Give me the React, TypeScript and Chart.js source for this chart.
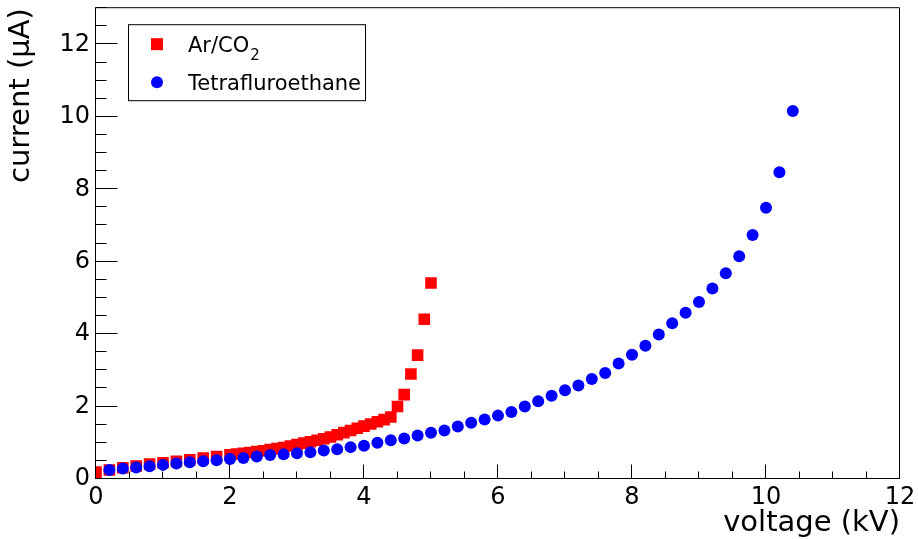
import React, { useEffect, useRef } from 'react';
import { Chart, registerables } from 'chart.js';

Chart.register(...registerables);

// Ar/CO2 data
const arVoltage = [
  0, 0.2, 0.4, 0.6, 0.8, 1.0, 1.2, 1.4, 1.6, 1.8, 2.0,
  2.1, 2.2, 2.3, 2.4, 2.5, 2.6, 2.7, 2.8, 2.9, 3.0,
  3.1, 3.2, 3.3, 3.4, 3.5, 3.6, 3.7, 3.8, 3.9, 4.0,
  4.1, 4.2, 4.3, 4.4, 4.5, 4.6, 4.7, 4.8, 4.9, 5.0,
];
const arCurrent = [
  0.19, 0.25, 0.31, 0.36, 0.41, 0.45, 0.49, 0.53, 0.58, 0.62, 0.67,
  0.69, 0.71, 0.73, 0.76, 0.78, 0.81, 0.84, 0.87, 0.91, 0.95,
  0.99, 1.03, 1.07, 1.11, 1.16, 1.22, 1.28, 1.34, 1.40, 1.46,
  1.52, 1.58, 1.64, 1.71, 2.0, 2.33, 2.9, 3.42, 4.41, 5.41,
];

// Tetrafluroethane data
const tfVoltage = [
  0.2, 0.4, 0.6, 0.8, 1.0, 1.2, 1.4, 1.6, 1.8, 2.0,
  2.2, 2.4, 2.6, 2.8, 3.0, 3.2, 3.4, 3.6, 3.8, 4.0,
  4.2, 4.4, 4.6, 4.8, 5.0, 5.2, 5.4, 5.6, 5.8, 6.0,
  6.2, 6.4, 6.6, 6.8, 7.0, 7.2, 7.4, 7.6, 7.8, 8.0,
  8.2, 8.4, 8.6, 8.8, 9.0, 9.2, 9.4, 9.6, 9.8, 10.0,
  10.2, 10.4,
];
const tfCurrent = [
  0.25, 0.29, 0.32, 0.35, 0.39, 0.43, 0.46, 0.49, 0.52, 0.55,
  0.58, 0.62, 0.66, 0.68, 0.71, 0.74, 0.79, 0.82, 0.88, 0.92,
  1.0, 1.07, 1.12, 1.2, 1.28, 1.34, 1.45, 1.55, 1.64, 1.75,
  1.85, 2.0, 2.15, 2.3, 2.45, 2.58, 2.76, 2.93, 3.19, 3.43,
  3.68, 3.99, 4.3, 4.59, 4.89, 5.26, 5.68, 6.15, 6.74, 7.49,
  8.47, 10.16,
];

const xTickValues = [0, 2, 4, 6, 8, 10, 12];
const yTickValues = [0, 2, 4, 6, 8, 10, 12];
const seriesNames = ['Ar/CO', 'Tetrafluroethane'];

const FONT = 'DejaVu Sans';

const frameTicksPlugin = {
  id: 'frameTicks',
  afterDatasetsDraw(chart: any) {
    const { ctx, chartArea, scales } = chart;
    const { left, right, top, bottom } = chartArea;
    const x = scales.x;
    const y = scales.y;
    ctx.save();
    ctx.strokeStyle = '#000';
    ctx.lineWidth = 1;
    ctx.beginPath();
    ctx.rect(left - 0.5, top - 0.5, right - left, bottom - top);
    ctx.stroke();
    ctx.beginPath();
    for (let v = x.min; v <= x.max + 1e-9; v += 0.5) {
      const px = Math.round(x.getPixelForValue(v)) - 0.5;
      const major = Math.abs(v / 2 - Math.round(v / 2)) < 1e-6;
      const len = major ? 14 : 7;
      ctx.moveTo(px, bottom - 0.5);
      ctx.lineTo(px, bottom - 0.5 - len);
    }
    for (let v = y.min; v <= y.max + 1e-9; v += 0.5) {
      const py = Math.round(y.getPixelForValue(v)) - 0.5;
      const major = Math.abs(v / 2 - Math.round(v / 2)) < 1e-6;
      const len = major ? 22 : 11;
      ctx.moveTo(left - 0.5, py);
      ctx.lineTo(left - 0.5 + len, py);
    }
    ctx.stroke();
    ctx.restore();
  },
  afterDraw(chart: any) {
    const { ctx, chartArea } = chart;
    const bx = chartArea.left + 32;
    const by = chartArea.top + 16;
    const bw = 237;
    const bh = 76;
    ctx.save();
    ctx.fillStyle = '#fff';
    ctx.fillRect(bx, by, bw, bh);
    ctx.strokeStyle = '#000';
    ctx.lineWidth = 1;
    ctx.strokeRect(bx + 0.5, by + 0.5, bw, bh);
    const mx = bx + 29;
    const y1 = by + 20;
    const y2 = by + 58;
    ctx.fillStyle = '#ff0000';
    ctx.fillRect(mx - 6, y1 - 6, 12, 12);
    ctx.fillStyle = '#0000ff';
    ctx.beginPath();
    ctx.arc(mx, y2, 6, 0, Math.PI * 2);
    ctx.fill();
    ctx.fillStyle = '#000';
    ctx.textAlign = 'left';
    ctx.textBaseline = 'alphabetic';
    ctx.font = `21px "${FONT}"`;
    const tx = bx + 60;
    ctx.fillText(seriesNames[0], tx, y1 + 8);
    const w = ctx.measureText(seriesNames[0]).width;
    ctx.font = `15px "${FONT}"`;
    ctx.fillText('2', tx + w + 1, y1 + 16);
    ctx.font = `21px "${FONT}"`;
    ctx.fillText(seriesNames[1], tx, y2 + 8);
    ctx.restore();
  },
};

export default function App() {
  const canvasRef = useRef<HTMLCanvasElement | null>(null);

  useEffect(() => {
    const canvas = canvasRef.current;
    if (!canvas) return;
    const chart = new Chart(canvas, {
      type: 'scatter',
      data: {
        datasets: [
          {
            label: 'Tetrafluroethane',
            data: tfVoltage.map((v, i) => ({ x: v, y: tfCurrent[i] })),
            pointStyle: 'circle',
            pointRadius: 6,
            pointBorderWidth: 0,
            backgroundColor: '#0000ff',
            borderColor: '#0000ff',
            order: 0,
          },
          {
            label: 'Ar/CO2',
            data: arVoltage.map((v, i) => ({ x: v, y: arCurrent[i] })),
            pointStyle: 'rect',
            pointRadius: 8.2,
            pointBorderWidth: 0,
            backgroundColor: '#ff0000',
            borderColor: '#ff0000',
            order: 1,
          },
        ],
      },
      options: {
        responsive: false,
        animation: false,
        events: [],
        devicePixelRatio: 1,
        layout: { padding: { top: 1, right: 18, left: 0, bottom: 0 } },
        plugins: {
          legend: { display: false },
          tooltip: { enabled: false },
        },
        scales: {
          x: {
            type: 'linear',
            min: 0,
            max: 12,
            grid: { display: false, drawTicks: false },
            border: { display: false },
            afterBuildTicks: (scale: any) => {
              scale.ticks = xTickValues.map((v) => ({ value: v }));
            },
            afterFit: (scale: any) => {
              scale.height = 60;
              scale.paddingLeft = 0;
              scale.paddingRight = 0;
            },
            ticks: {
              autoSkip: false,
              maxRotation: 0,
              padding: 4,
              color: '#000',
              font: { family: FONT, size: 24 },
              callback: (v: any) => String(v),
            },
            title: {
              display: true,
              text: 'voltage (kV)',
              align: 'end',
              color: '#000',
              font: { family: FONT, size: 29 },
              padding: { top: 0, bottom: -2 },
            },
          },
          y: {
            type: 'linear',
            min: 0,
            max: 13,
            grid: { display: false, drawTicks: false },
            border: { display: false },
            afterBuildTicks: (scale: any) => {
              scale.ticks = yTickValues.map((v) => ({ value: v }));
            },
            afterFit: (scale: any) => {
              scale.width = 96;
              scale.paddingTop = 0;
              scale.paddingBottom = 0;
            },
            ticks: {
              autoSkip: false,
              padding: 6,
              color: '#000',
              font: { family: FONT, size: 24 },
              callback: (v: any) => String(v),
            },
            title: {
              display: true,
              text: 'current (μA)',
              align: 'end',
              color: '#000',
              font: { family: FONT, size: 29 },
              padding: { top: 4, bottom: 0 },
            },
          },
        },
      },
      plugins: [frameTicksPlugin],
    });
    return () => chart.destroy();
  }, []);

  return (
    <div style={{ position: 'absolute', left: 0, top: 0, width: 918, height: 539, background: '#fff' }}>
      <canvas ref={canvasRef} width={918} height={539} style={{ display: 'block', width: 918, height: 539 }} />
    </div>
  );
}
